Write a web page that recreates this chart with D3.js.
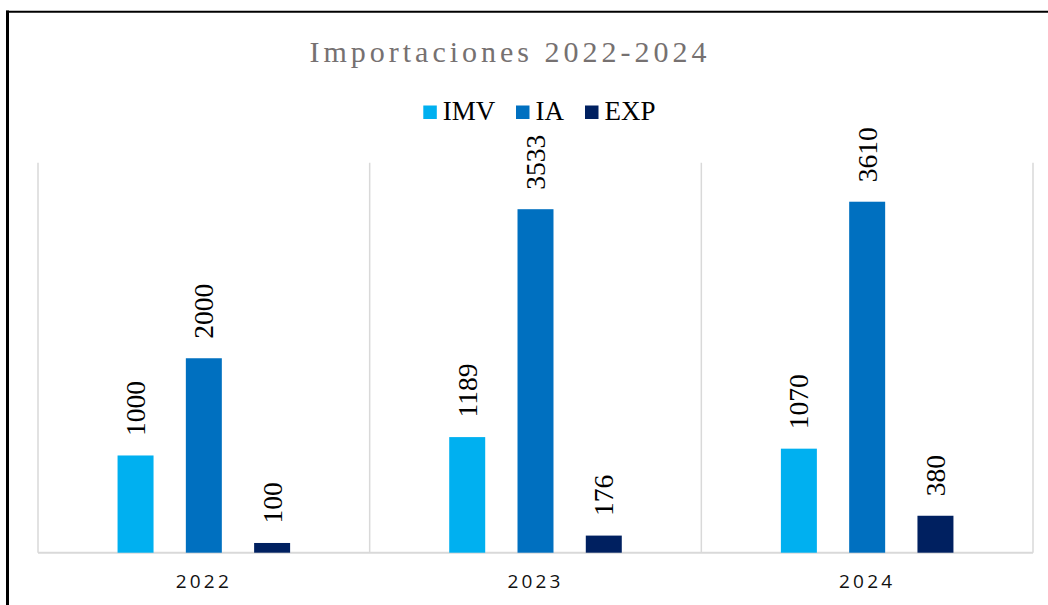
<!DOCTYPE html>
<html><head><meta charset="utf-8">
<script src="https://cdn.jsdelivr.net/npm/d3@7"></script>
<style>
html,body{margin:0;padding:0;background:#fff;}
svg{display:block;}
</style>
</head><body>
<svg id="chart" width="1048" height="605"></svg>
<script>
const title = "Importaciones 2022-2024";
const categories = ["2022", "2023", "2024"];
const seriesNames = ["IMV", "IA", "EXP"];
const seriesColors = ["#00B0F0", "#0070C0", "#002060"];
const IMV = [1000, 1189, 1070];
const IA = [2000, 3533, 3610];
const EXP = [100, 176, 380];
const seriesValues = [IMV, IA, EXP];
const yTicks = [0, 4000];

const svg = d3.select("#chart");
const W = 1048, H = 605;
const plot = {left: 38, right: 1033, top: 163.8, bottom: 552.7};

// outer frame
svg.append("line").attr("x1", 7.5).attr("x2", 7.5).attr("y1", 10.5).attr("y2", H)
  .attr("stroke", "#000").attr("stroke-width", 3);
svg.append("line").attr("x1", 6).attr("x2", W).attr("y1", 11.8).attr("y2", 11.8)
  .attr("stroke", "#000").attr("stroke-width", 2);

const x = d3.scaleBand().domain(categories).range([plot.left, plot.right]).paddingInner(0).paddingOuter(0);
const xs = d3.scaleBand().domain(seriesNames).range([0, x.bandwidth()]).paddingInner(0.473).paddingOuter(1.165);
const y = d3.scaleLinear().domain([yTicks[0], yTicks[1]]).range([plot.bottom, plot.top]);

// vertical category separators
const seps = categories.map(c => x(c)).concat([plot.right]);
svg.append("g").selectAll("line").data(seps).join("line")
  .attr("x1", d => d).attr("x2", d => d)
  .attr("y1", y(yTicks[1]) - 1).attr("y2", plot.bottom)
  .attr("stroke", "#d9d9d9").attr("stroke-width", 1.5);

// baseline axis
const xAxis = d3.axisBottom(x).tickSize(0).tickPadding(0);
const gx = svg.append("g").attr("transform", `translate(0,${plot.bottom})`).call(xAxis);
gx.select(".domain").attr("stroke", "#d9d9d9").attr("stroke-width", 2)
  .attr("d", `M${plot.left},0H${plot.right}`);
gx.selectAll(".tick text")
  .attr("y", 35).attr("dy", 0)
  .attr("font-family", "'Open Sans', 'Liberation Sans', sans-serif")
  .attr("font-size", 19).attr("letter-spacing", 3.2).attr("fill", "#111");

// bars
const rows = [];
categories.forEach((c, i) => seriesNames.forEach((s, j) => rows.push({c, s, v: seriesValues[j][i], color: seriesColors[j]})));
svg.append("g").selectAll("rect").data(rows).join("rect")
  .attr("x", d => x(d.c) + xs(d.s))
  .attr("width", xs.bandwidth())
  .attr("y", d => y(d.v))
  .attr("height", d => plot.bottom - y(d.v))
  .attr("fill", d => d.color);

// value labels (rotated)
svg.append("g").selectAll("text").data(rows).join("text")
  .attr("transform", d => `translate(${x(d.c) + xs(d.s) + xs.bandwidth()/2 + 9.5},${y(d.v) - 19.5}) rotate(-90)`)
  .attr("text-anchor", "start")
  .attr("font-family", "'Liberation Serif', 'Times New Roman', serif")
  .attr("font-size", 27.5).attr("fill", "#000")
  .text(d => d.v);

// title
svg.append("text").attr("x", 510).attr("y", 61.5).attr("text-anchor", "middle")
  .attr("font-family", "'Liberation Serif', 'Times New Roman', serif")
  .attr("font-size", 30).attr("letter-spacing", 4).attr("fill", "#767171")
  .text(title);

// legend
const legendX = [423.3, 516, 585];
const lg = svg.append("g");
seriesNames.forEach((s, j) => {
  lg.append("rect").attr("x", legendX[j]).attr("y", 105.5).attr("width", 13.5).attr("height", 13.5).attr("fill", seriesColors[j]);
  lg.append("text").attr("x", legendX[j] + 19.5).attr("y", 120)
    .attr("font-family", "'Liberation Serif', 'Times New Roman', serif")
    .attr("font-size", 27).attr("fill", "#000").text(s);
});
</script>
</body></html>
